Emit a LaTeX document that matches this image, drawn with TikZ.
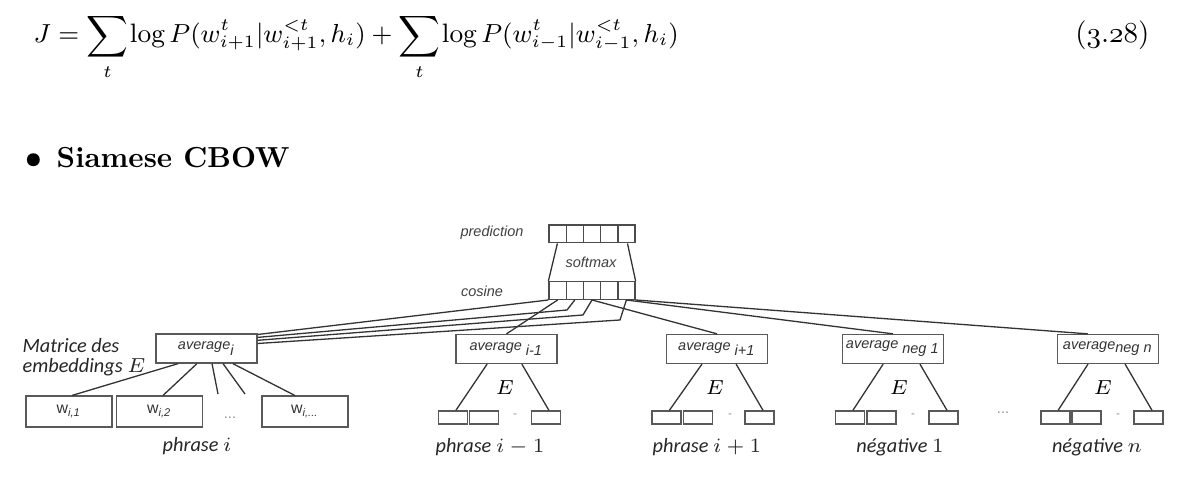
\documentclass[tikz,border=0pt]{standalone}
\usepackage{fontspec}
\newfontfamily\arialfont{Liberation Sans}
\newfontfamily\calfont{Carlito}
\usetikzlibrary{positioning}

\begin{document}
\begin{tikzpicture}[
  x=0.345pt, y=-0.345pt,
  cell/.style={
    rectangle, draw=black!70, line width=0.45pt,
    minimum width=5.9pt, minimum height=6.1pt, inner sep=0pt
  },
  avg/.style={
    rectangle, draw=black!65, line width=0.45pt,
    minimum width=34.8pt, minimum height=10pt, inner sep=0pt,
    font=\arialfont\itshape\fontsize{5}{6}\selectfont, text=black!80
  },
  tok/.style={
    rectangle, draw=black!65, line width=0.45pt,
    minimum width=10pt, minimum height=4.5pt, inner sep=0pt
  },
  wbox/.style={
    rectangle, draw=black!65, line width=0.45pt,
    minimum width=29.6pt, minimum height=10.6pt, inner sep=0pt,
    font=\arialfont\fontsize{5.5}{6}\selectfont, text=black!80
  },
  lbl/.style={font=\arialfont\itshape\fontsize{5}{6}\selectfont, text=black!75},
  phr/.style={font=\calfont\itshape\fontsize{7}{8}\selectfont, text=black!85},
  emat/.style={font=\fontsize{7}{8}\selectfont},
  gap/.style={font=\arialfont\fontsize{4}{5}\selectfont, text=black!45},
  link/.style={draw=black!80, line width=0.45pt}
]
\useasboundingbox (0,0) rectangle (1188,478);

% ─── Text above the figure ──────────────────────────────────
\node[anchor=base west, inner sep=0pt, font=\fontsize{9.2}{11}\selectfont] (eq) at (33,43)
  {$\displaystyle J = \sum_t\mkern-2mu \log P(w^t_{i+1}|w^{<t}_{i+1},h_i) + \sum_t\mkern-2mu \log P(w^t_{i-1}|w^{<t}_{i-1},h_i)$};
\node[anchor=base east, inner sep=0pt] (eqnum) at (1150,43) {($\mathnormal{3}.\mathnormal{28}$)};
\node[anchor=base west, inner sep=0pt] (title) at (25,168) {{\boldmath$\bullet$}\enspace\textbf{Siamese CBOW}};

% ─── Prediction / cosine layer ──────────────────────────────
\node[cell] (pred1) at (557.6,234) {};
\node[cell] (pred2) at (574.8,234) {};
\node[cell] (pred3) at (592.0,234) {};
\node[cell] (pred4) at (609.2,234) {};
\node[cell] (pred5) at (626.4,234) {};

\node[cell] (cos1) at (557.6,290.5) {};
\node[cell] (cos2) at (574.8,290.5) {};
\node[cell] (cos3) at (592.0,290.5) {};
\node[cell] (cos4) at (609.2,290.5) {};
\node[cell] (cos5) at (626.4,290.5) {};

\draw[link] ([xshift=3.1pt]pred1.south west) -- (cos1.north west);
\draw[link] ([xshift=-2.8pt]pred5.south east) -- (cos5.north east);

\node[lbl] (softmax) at (591,262) {softmax};
\node[lbl] (predlbl) at (492,233) {prediction};
\node[lbl] (coslbl) at (482,291) {cosine};

% ─── Averages ───────────────────────────────────────────────
\node[avg] (avgi)  at (206.5,348.5) {average\textsubscript{i}};
\node[avg] (avgim) at (506.5,349) {average\textsubscript{ i-1}};
\node[avg] (avgip) at (717,349)   {average\textsubscript{ i+1}};
\node[avg] (avgn1) at (893,349)   {average\textsubscript{ neg 1}};
\node[avg] (avgnn) at (1108,349)  {average\textsubscript{neg n}};

\node[phr, anchor=north west, align=left, inner sep=0pt] (matlbl) at (22,338)
  {Matrice des\\[-1pt]embeddings \upshape$E$};

% ─── Cosine → averages ──────────────────────────────────────
\coordinate (k2) at (567,310);
\coordinate (k3) at (583,315);
\coordinate (k5) at (620,320);

\draw[link] (cos1.south west) -- ([yshift=-0.4pt]avgi.north east);
\draw[link] (cos2.south) -- (k2) -- ([yshift=-1.4pt]avgi.north east);
\draw[link] (cos3.south) -- (k3) -- ([yshift=-2.4pt]avgi.north east);
\draw[link] (cos5.south) -- (k5) -- ([yshift=-3.5pt]avgi.north east);
\draw[link] (cos1.south) -- (avgim.north);
\draw[link] (cos3.south) -- (avgip.north);
\draw[link] (cos5.south) -- (avgn1.north);
\draw[link] (cos5.south east) -- ([xshift=-7pt]avgnn.north);

% ─── Phrase i ───────────────────────────────────────────────
\node[wbox] (w1) at (69,411.5)    {w\textsubscript{\itshape i,1}};
\node[wbox] (w2) at (159.5,411.5) {w\textsubscript{\itshape i,2}};
\node[wbox] (wn) at (305,411.5)   {w\textsubscript{\itshape i,...}};
\node[gap, font=\arialfont\fontsize{5}{6}\selectfont] (wdots) at (230,418) {...};
\coordinate (d1) at (218,394);
\coordinate (d2) at (245,394);

\draw[link] ([xshift=-9.8pt]avgi.south) -- ([xshift=1pt]w1.north);
\draw[link] ([xshift=-3.3pt]avgi.south) -- ([xshift=1.2pt]w2.north);
\draw[link] ([xshift=1.9pt]avgi.south) -- (d1);
\draw[link] ([xshift=5.7pt]avgi.south) -- (d2);
\draw[link] ([xshift=9.1pt]avgi.south) -- ([xshift=-3.5pt]wn.north);

\node[phr] (phri) at (197,446) {phrase \upshape$i$};

% ─── Phrase i-1 ─────────────────────────────────────────────
\node[tok] (ta1) at (453,417.5) {};
\node[tok] (ta2) at (484,417.5) {};
\node[tok] (ta3) at (546,417.5) {};
\node[gap] (tadots) at (515,416) {-};
\node[emat] (ea) at (505,388) {$E$};
\draw[link] ([xshift=-6.7pt]avgim.south) -- ([xshift=1pt]ta1.north);
\draw[link] ([xshift=5.3pt]avgim.south) -- ([xshift=1pt]ta3.north);
\node[phr] (phra) at (490,447) {phrase \upshape$i-1$};

% ─── Phrase i+1 ─────────────────────────────────────────────
\node[tok] (tb1) at (666.5,417.5) {};
\node[tok] (tb2) at (698,417.5)   {};
\node[tok] (tb3) at (759.5,417.5) {};
\node[gap] (tbdots) at (730,416) {-};
\node[emat] (eb) at (715,388) {$E$};
\draw[link] ([xshift=-5.2pt]avgip.south) -- ([xshift=1pt]tb1.north);
\draw[link] ([xshift=6.6pt]avgip.south) -- ([xshift=1.2pt]tb3.north);
\node[phr] (phrb) at (707,447) {phrase \upshape$i+1$};

% ─── Negative 1 ─────────────────────────────────────────────
\node[tok] (tc1) at (850,417.5)   {};
\node[tok] (tc2) at (881.5,417.5) {};
\node[tok] (tc3) at (943.5,417.5) {};
\node[gap] (tcdots) at (913,416) {-};
\node[emat] (ec) at (899,388) {$E$};
\draw[link] ([xshift=-3.4pt]avgn1.south) -- ([xshift=1pt]tc1.north);
\draw[link] ([xshift=9.3pt]avgn1.south) -- ([xshift=1.2pt]tc3.north);
\node[phr] (negc) at (900,447) {négative \upshape$1$};

\node[gap, font=\arialfont\fontsize{5}{6}\selectfont] (negdots) at (1003,413) {...};

% ─── Negative n ─────────────────────────────────────────────
\node[tok] (td1) at (1055.5,417.5) {};
\node[tok] (td2) at (1086.5,417.5) {};
\node[tok] (td3) at (1148.5,417.5) {};
\node[gap] (tddots) at (1118,416) {-};
\node[emat] (ed) at (1103,388) {$E$};
\draw[link] ([xshift=-6.9pt]avgnn.south) -- ([xshift=0.9pt]td1.north);
\draw[link] ([xshift=5.9pt]avgnn.south) -- ([xshift=1.2pt]td3.north);
\node[phr] (negd) at (1097,447) {négative \upshape$n$};

\end{tikzpicture}
\end{document}
